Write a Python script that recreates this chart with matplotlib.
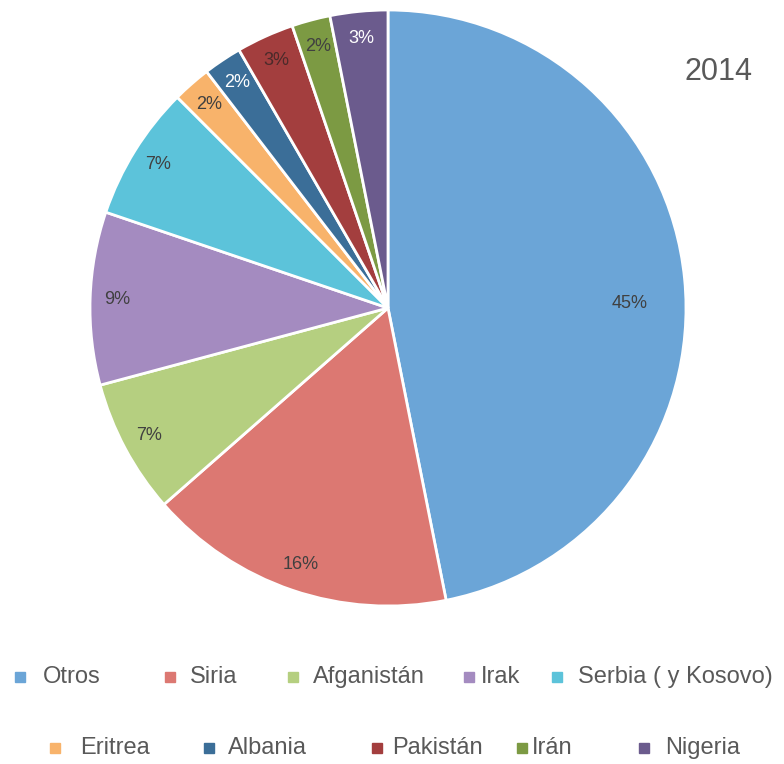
import matplotlib
matplotlib.use("Agg")
import matplotlib.pyplot as plt
from matplotlib.patches import Rectangle
import numpy as np

plt.rcParams['font.family'] = ['Liberation Sans', 'DejaVu Sans']

# data (percent labels, they don't sum to 100)
paises = ['Otros', 'Siria', 'Afganistán', 'Irak', 'Serbia ( y Kosovo)',
          'Eritrea', 'Albania', 'Pakistán', 'Irán', 'Nigeria']
valores = [45, 16, 7, 9, 7, 2, 2, 3, 2, 3]
colores = ['#6BA5D7', '#DC7872', '#B5CF80', '#A48BC0', '#5CC3DA',
           '#F8B36B', '#3B6E98', '#A33E3E', '#7C9A43', '#6B5B8D']
col_txt = ['#404040', '#404040', '#404040', '#404040', '#404040',
           '#404040', '#ffffff', '#4a2a2a', '#404040', '#ffffff']
titulo = '2014'

W, H = 784, 764
fig = plt.figure(figsize=(W/100, H/100), dpi=100)

cx, cy, r = 388, 308, 298
ax = fig.add_axes([(cx-r)/W, (H-cy-r)/H, 2*r/W, 2*r/H])
wedges, _ = ax.pie(valores, colors=colores, startangle=90, counterclock=False,
                   radius=1, wedgeprops=dict(edgecolor='white', linewidth=2))
ax.set_xlim(-1, 1)
ax.set_ylim(-1, 1)
ax.set_aspect('equal')
ax.axis('off')

# percent labels near outer edge
for i, w in enumerate(wedges):
    ang = np.deg2rad((w.theta1 + w.theta2)/2)
    d = 0.91
    if i == 0:
        d = 0.81
        ang = np.deg2rad(1)
    ax.text(d*np.cos(ang), d*np.sin(ang), f"{valores[i]}%", ha='center', va='center',
            fontsize=13, color=col_txt[i])

fig.text(718/W, 1-72/H, titulo, ha='center', va='center', fontsize=22, color='#595959')

# legend, two rows placed by hand like the original
filas = [677, 748]
xs_sq = [20, 170, 293, 469, 557, 55, 209, 377, 522, 644]
xs_tx = [43, 190, 313, 481, 578, 80, 228, 392, 532, 665]
for i, nombre in enumerate(paises):
    y = filas[0] if i < 5 else filas[1]
    s = 10
    fig.patches.append(Rectangle(((xs_sq[i]-s/2)/W, 1-(y+s/2)/H), s/W, s/H,
                                 transform=fig.transFigure, color=colores[i]))
    fig.text(xs_tx[i]/W, 1-y/H, nombre, ha='left', va='center', fontsize=17, color='#595959')

fig.savefig('out.png', dpi=100, facecolor='white')
